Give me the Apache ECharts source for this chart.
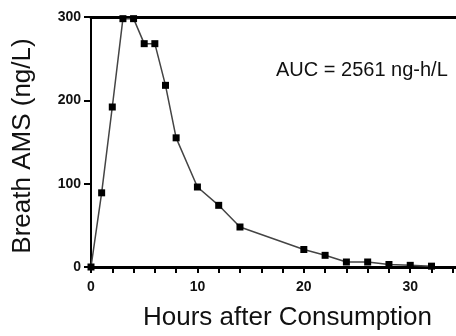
<!DOCTYPE html>
<html>
<head>
<meta charset="utf-8">
<script src="https://cdn.jsdelivr.net/npm/echarts@6/dist/echarts.min.js"></script>
<style>
  html, body {margin: 0; padding: 0; background: #fff;}
  #chart {width: 456px; height: 336px;}
</style>
</head>
<body>
<div id="chart"></div>
<script>
// hours after consumption vs breath AMS (ng/L)
const hours = [0, 1, 2, 3, 4, 5, 6, 7, 8, 10, 12, 14, 20, 22, 24, 26, 28, 30, 32];
const ams = [0, 89, 192, 298, 298, 268, 268, 218, 155, 96, 74, 48, 21, 14, 6, 6, 3, 2, 1];
const xLabels = [0, 10, 20, 30];
const aucText = 'AUC = 2561 ng-h/L';

const font = 'Liberation Sans, Arial, Helvetica, sans-serif';
const myChart = echarts.init(document.getElementById('chart'));

myChart.setOption({
    animation: false,
    title: {
        text: aucText,
        left: 271,
        top: 55,
        textStyle: {fontFamily: font, fontSize: 20, fontWeight: 'normal', color: '#111'}
    },
    grid: {left: 91, right: 0, top: 17, bottom: 66},
    xAxis: [{
        type: 'value',
        min: 0,
        max: 34.3,
        interval: 2,
        name: 'Hours after Consumption',
        nameLocation: 'middle',
        nameGap: 38,
        nameTextStyle: {fontFamily: font, fontSize: 26, color: '#111', padding: [0, 0, 0, 28]},
        axisLine: {lineStyle: {color: '#000', width: 3}},
        axisTick: {length: 6, lineStyle: {color: '#000', width: 2}},
        splitLine: {show: false},
        axisLabel: {
            margin: 13,
            fontFamily: font, fontSize: 14, fontWeight: 'bold', color: '#111',
            showMaxLabel: false,
            formatter(v) {
                return xLabels.indexOf(v) >= 0 ? String(v) : '';
            }
        }
    }, {
        type: 'value',
        position: 'top',
        min: 0,
        max: 34.3,
        axisLine: {show: true, lineStyle: {color: '#000', width: 3}},
        axisTick: {show: false},
        axisLabel: {show: false},
        splitLine: {show: false}
    }],
    yAxis: {
        type: 'value',
        min: 0,
        max: 300,
        interval: 100,
        name: 'Breath AMS (ng/L)',
        nameLocation: 'middle',
        nameGap: 55,
        nameTextStyle: {fontFamily: font, fontSize: 26, color: '#111', padding: [0, 0, 0, -8]},
        axisLine: {show: true, lineStyle: {color: '#000', width: 2}},
        axisTick: {show: true, length: 7, lineStyle: {color: '#000', width: 2}},
        splitLine: {show: false},
        axisLabel: {margin: 10, fontFamily: font, fontSize: 14, fontWeight: 'bold', color: '#111'}
    },
    series: [{
        type: 'line',
        data: hours.map((h, i) => [h, ams[i]]),
        symbol: 'rect',
        symbolSize: 7,
        clip: false,
        lineStyle: {color: '#444', width: 1.5},
        itemStyle: {color: '#000'}
    }]
});
</script>
</body>
</html>
